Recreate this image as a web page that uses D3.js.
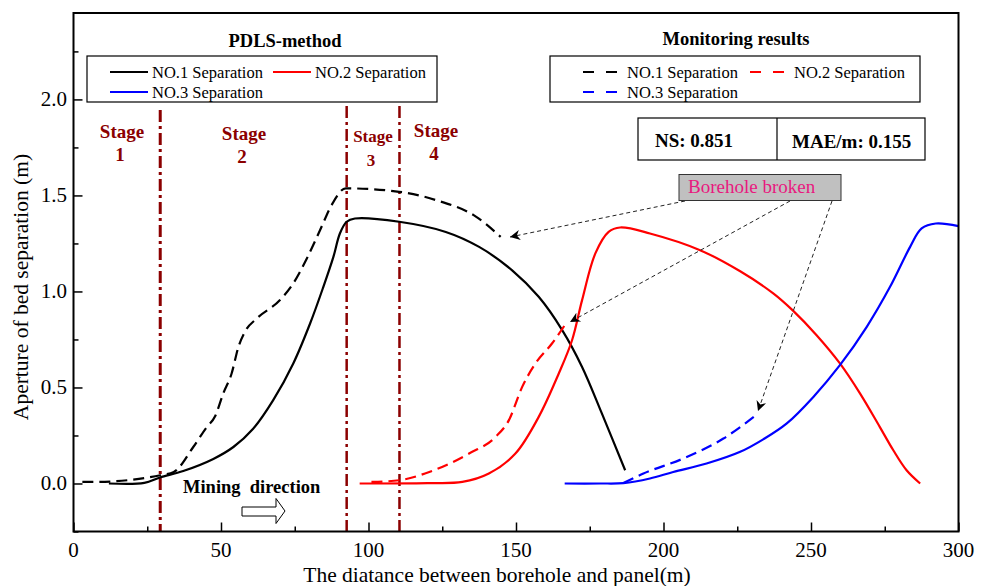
<!DOCTYPE html>
<html><head><meta charset="utf-8">
<script src="https://cdn.jsdelivr.net/npm/d3@7"></script>
<style>body{margin:0;background:#fff}svg{display:block}</style>
</head><body>
<svg id="c" width="984" height="586" font-family="'Liberation Serif', 'Times New Roman', Times, 'DejaVu Serif', serif"></svg>
<script>
// ---- data ----
const pdls1X = [12, 24, 29.3, 37.2, 47.4, 54.2, 60.9, 67.7, 74.5, 80.2, 84.7, 88.1, 90.3, 92.6, 95.4, 110.4, 126.2, 137.5, 148.7, 157.7, 165.6, 172.4, 179.1, 187];
const pdls1Y = [0, 0.003, 0.031, 0.065, 0.128, 0.19, 0.285, 0.434, 0.625, 0.833, 1.024, 1.18, 1.302, 1.363, 1.38, 1.363, 1.31, 1.232, 1.11, 0.972, 0.80, 0.607, 0.365, 0.069];
const mon1X = [3, 7, 20, 29.4, 34, 40.6, 45, 48, 50.8, 53.6, 55.9, 58.1, 62.1, 70, 74.5, 79.1, 83.6, 87.5, 92.3, 110.4, 122.8, 136.4, 144.8];
const mon1Y = [0.008, 0.008, 0.02, 0.043, 0.06, 0.19, 0.29, 0.35, 0.47, 0.573, 0.711, 0.79, 0.859, 0.955, 1.042, 1.172, 1.32, 1.45, 1.537, 1.519, 1.476, 1.39, 1.284];
const pdls2X = [97, 120, 131.8, 140.8, 149.8, 157.7, 164.5, 169, 172.4, 176.9, 181.4, 185.3, 195.4, 212.4, 226, 237.2, 243.9, 251.9, 259.8, 266.6, 273.3, 277.9, 282.4, 287];
const pdls2Y = [0, 0.002, 0.008, 0.052, 0.156, 0.347, 0.573, 0.746, 0.955, 1.198, 1.31, 1.333, 1.302, 1.215, 1.105, 0.99, 0.9, 0.772, 0.625, 0.469, 0.295, 0.173, 0.069, 0.0];
const mon2X = [101, 110.4, 120.6, 134.1, 143.1, 147.6, 152.1, 156.6, 162.2, 167.3];
const mon2Y = [0.008, 0.017, 0.06, 0.156, 0.243, 0.33, 0.503, 0.625, 0.729, 0.842];
const pdls3X = [166.5, 178.5, 186.4, 195.4, 203.3, 214.6, 226, 233.8, 241.8, 250.8, 259.8, 268.9, 276.8, 283.6, 287.5, 292.3, 300];
const pdls3Y = [0, 0, 0.002, 0.026, 0.06, 0.104, 0.165, 0.23, 0.313, 0.451, 0.616, 0.816, 1.024, 1.232, 1.328, 1.354, 1.34];
const mon3X = [186.4, 193.2, 206.7, 220.3, 232.1];
const mon3Y = [0.002, 0.052, 0.13, 0.234, 0.365];
const stageX = [29.4, 92.6, 110.5];
const xTicks = [0, 50, 100, 150, 200, 250, 300];
const yTicks = [0.0, 0.5, 1.0, 1.5, 2.0];
const legendNames = ["NO.1 Separation", "NO.2 Separation", "NO.3 Separation"];
const colors = ["#000000", "#ff0000", "#0000ff"];

// ---- chart ----
const svg = d3.select("#c");
const L = 73.5, R = 958.5, T = 13, B = 531.5;
const x = d3.scaleLinear().domain([0, 300]).range([L, R]);
const y = d3.scaleLinear().domain([-0.25, 2.45]).range([B, T]);
const darkRed = "#8b0000";

svg.append("defs").append("marker").attr("id", "ah").attr("viewBox", "0 0 10 10")
  .attr("refX", 10).attr("refY", 5).attr("markerWidth", 14).attr("markerHeight", 10)
  .attr("markerUnits", "userSpaceOnUse").attr("orient", "auto")
  .append("path").attr("d", "M0,0 L10,5 L0,10 L3,5 Z").attr("fill", "#000");

// axes
const xMinor = d3.range(0, 301, 25);
const yMinor = d3.range(-0.25, 2.46, 0.25);
const gx = svg.append("g").attr("transform", `translate(0,${B})`)
  .call(d3.axisBottom(x).tickValues(xMinor).tickSize(0).tickFormat(""));
gx.select(".domain").remove();
gx.selectAll(".tick").append("line").attr("y2", d => (d % 50 === 0 ? -9 : -5)).attr("stroke", "#000").attr("stroke-width", 1.5);
const gy = svg.append("g").attr("transform", `translate(${L},0)`)
  .call(d3.axisLeft(y).tickValues(yMinor).tickSize(0).tickFormat(""));
gy.select(".domain").remove();
gy.selectAll(".tick").append("line").attr("x2", d => (Math.abs(Math.round(d * 2) - d * 2) < 1e-6 ? 9 : 5)).attr("stroke", "#000").attr("stroke-width", 1.5);

svg.append("g").selectAll("text").data(xTicks).join("text")
  .attr("x", d => x(d)).attr("y", 557).attr("text-anchor", "middle")
  .attr("font-size", 21).text(d => d);
svg.append("g").selectAll("text").data(yTicks).join("text")
  .attr("x", 67).attr("y", d => y(d) + 7).attr("text-anchor", "end")
  .attr("font-size", 21).text(d => d.toFixed(1));

svg.append("text").attr("x", 497).attr("y", 582).attr("text-anchor", "middle")
  .attr("font-size", 21.5).text("The diatance between borehole and panel(m)");
svg.append("text").attr("transform", "translate(28,287) rotate(-90)").attr("text-anchor", "middle")
  .attr("font-size", 21.5).text("Aperture of bed separation (m)");

// stage lines
svg.append("g").selectAll("line").data(stageX).join("line")
  .attr("x1", d => x(d)).attr("x2", d => x(d))
  .attr("y1", (d, i) => (i === 0 ? 110 : 106)).attr("y2", B)
  .attr("stroke", darkRed).attr("stroke-width", (d, i) => (i === 0 ? 3 : 2.5))
  .attr("stroke-dasharray", "12,4,3,4");

const stages = [
  { t: "1", cx: 122, y1: 138, y2: 161, fs: 19 },
  { t: "2", cx: 244, y1: 140, y2: 163, fs: 19 },
  { t: "3", cx: 373, y1: 142, y2: 166, fs: 17 },
  { t: "4", cx: 436, y1: 137, y2: 160, fs: 19 }
];
stages.forEach(s => {
  svg.append("text").attr("x", s.cx).attr("y", s.y1).attr("text-anchor", "middle")
    .attr("font-weight", "bold").attr("font-size", s.fs).attr("fill", darkRed).text("Stage");
  svg.append("text").attr("x", s.cx - 2).attr("y", s.y2).attr("text-anchor", "middle")
    .attr("font-weight", "bold").attr("font-size", s.fs).attr("fill", darkRed).text(s.t);
});

// curves
const zip = (xs, ys) => xs.map((v, i) => [v, ys[i]]);
const solid = d3.line().x(d => x(d[0])).y(d => y(d[1])).curve(d3.curveCatmullRom.alpha(0.5));
const dashed = d3.line().x(d => x(d[0])).y(d => y(d[1])).curve(d3.curveMonotoneX);
const pd = [zip(pdls1X, pdls1Y), zip(pdls2X, pdls2Y), zip(pdls3X, pdls3Y)];
const mo = [zip(mon1X, mon1Y), zip(mon2X, mon2Y), zip(mon3X, mon3Y)];
svg.append("g").selectAll("path").data(pd).join("path")
  .attr("d", solid).attr("fill", "none").attr("stroke", (d, i) => colors[i]).attr("stroke-width", 2.2);
svg.append("g").selectAll("path").data(mo).join("path")
  .attr("d", dashed).attr("fill", "none").attr("stroke", (d, i) => colors[i]).attr("stroke-width", 2.2)
  .attr("stroke-dasharray", "11,6");

// frame
svg.append("rect").attr("x", L).attr("y", T).attr("width", R - L).attr("height", B - T)
  .attr("fill", "none").attr("stroke", "#000").attr("stroke-width", 2);

function legend(title, tx, ty, bx, by, bw, bh, col1, col2, dash) {
  svg.append("text").attr("x", tx).attr("y", ty).attr("text-anchor", "middle")
    .attr("font-weight", "bold").attr("font-size", 18.5).text(title);
  svg.append("rect").attr("x", bx).attr("y", by).attr("width", bw).attr("height", bh)
    .attr("fill", "#fff").attr("stroke", "#000").attr("stroke-width", 1.2);
  const pos = [[col1, 72], [col2, 72], [col1, 92]];
  legendNames.forEach((n, i) => {
    const [lx, ly] = pos[i];
    svg.append("line").attr("x1", lx).attr("x2", lx + (dash ? 34 : 38)).attr("y1", ly).attr("y2", ly)
      .attr("stroke", colors[i]).attr("stroke-width", 2).attr("stroke-dasharray", dash ? "11,12" : null);
    svg.append("text").attr("x", lx + (dash ? 44 : 42)).attr("y", ly + 5.5).attr("font-size", 16.5).text(n);
  });
}
legend("PDLS-method", 285, 47, 87, 56, 350, 46, 110, 273, false);
legend("Monitoring results", 736, 45, 550, 56, 370, 46, 583, 750, true);

svg.append("rect").attr("x", 638).attr("y", 118).attr("width", 287).attr("height", 42)
  .attr("fill", "#fff").attr("stroke", "#000").attr("stroke-width", 1.2);
svg.append("line").attr("x1", 777).attr("x2", 777).attr("y1", 118).attr("y2", 160).attr("stroke", "#000").attr("stroke-width", 1.2);
svg.append("text").attr("x", 655).attr("y", 147).attr("font-weight", "bold").attr("font-size", 19).text("NS: 0.851");
svg.append("text").attr("x", 792).attr("y", 148).attr("font-weight", "bold").attr("font-size", 19).text("MAE/m: 0.155");

const arrows = [
  [685, 201, 510, 237],
  [790, 201, 570, 322],
  [832, 201, 758, 411]
];
svg.append("g").selectAll("line").data(arrows).join("line")
  .attr("x1", d => d[0]).attr("y1", d => d[1]).attr("x2", d => d[2]).attr("y2", d => d[3])
  .attr("stroke", "#222").attr("stroke-width", 1).attr("stroke-dasharray", "4,3")
  .attr("marker-end", "url(#ah)");
svg.append("rect").attr("x", 679).attr("y", 174.5).attr("width", 162).attr("height", 26)
  .attr("fill", "#c0c0c0").attr("stroke", "#333").attr("stroke-width", 1);
svg.append("text").attr("x", 688).attr("y", 193).attr("font-size", 19).attr("fill", "#e8197f").text("Borehole broken");

svg.append("text").attr("x", 183).attr("y", 493).attr("font-weight", "bold").attr("font-size", 18.5)
  .style("white-space", "pre").text("Mining  direction");
svg.append("path").attr("d", "M242,507 L276,507 L276,498.5 L285,511 L276,523.5 L276,516 L242,516 Z")
  .attr("fill", "#fff").attr("stroke", "#000").attr("stroke-width", 1);
</script>
</body></html>
